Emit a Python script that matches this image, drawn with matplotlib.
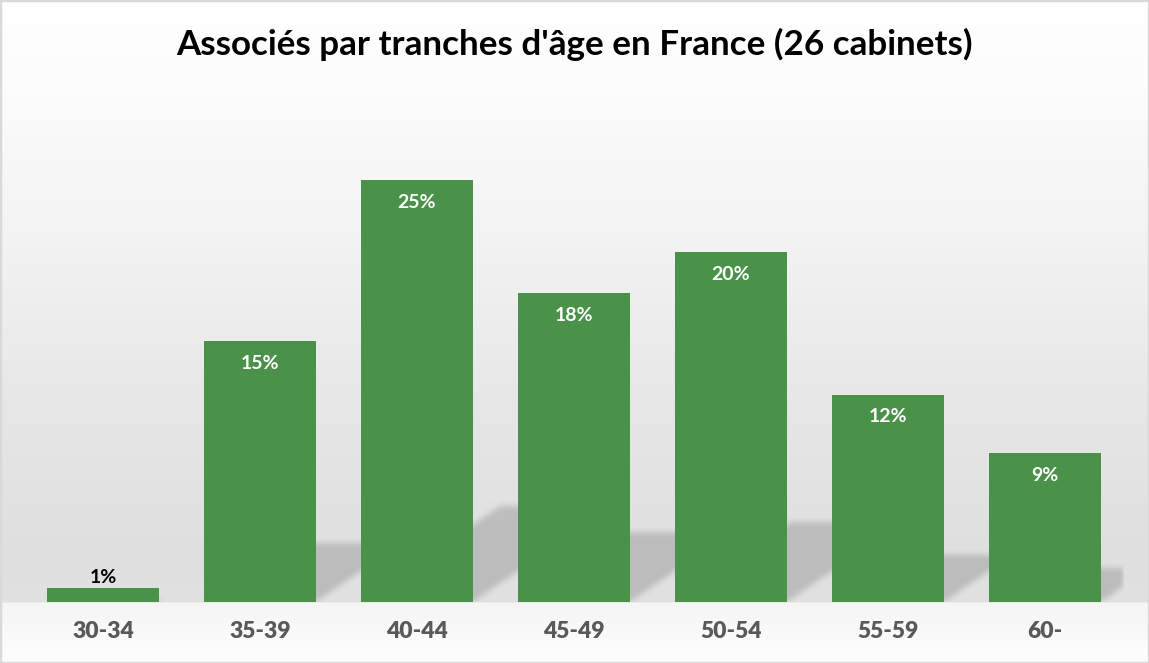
import numpy as np
import matplotlib
matplotlib.use("Agg")
import matplotlib.pyplot as plt
from matplotlib.patches import Rectangle

# ---- data ----
categories = ["30-34", "35-39", "40-44", "45-49", "50-54", "55-59", "60-"]
values = [0.8, 15.2, 24.6, 18.0, 20.4, 12.1, 8.7]
title = "Associés par tranches d'âge en France (26 cabinets)"

bar_color = "#4a9249"
tick_color = "#595959"
FONT = "Lato"

W_PX, H_PX, DPI = 1149, 663, 100
fig = plt.figure(figsize=(W_PX / DPI, H_PX / DPI), dpi=DPI)

# ---- background gradient over the whole chart ----
bg = fig.add_axes([0, 0, 1, 1], zorder=-10)
stops_y = [0, 90, 250, 400, 560, 601, 603, 663]
stops_v = [255, 252, 242, 231, 223, 225, 245, 254]
rows = np.interp(np.arange(H_PX), stops_y, stops_v) / 255.0
grad = np.repeat(rows[:, None], 4, axis=1)
rgb = np.dstack([grad, grad, grad])
bg.imshow(rgb, aspect="auto", extent=(0, 1, 0, 1), interpolation="bilinear")
bg.set_axis_off()

# ---- main axes ----
left_px, right_px = 24.5, 1123.5
base_px, top_px = 602, 122
ymax = 28.0
ax = fig.add_axes([left_px / W_PX, 1 - base_px / H_PX,
                   (right_px - left_px) / W_PX, (base_px - top_px) / H_PX])
ax.patch.set_visible(False)
n = len(categories)
x = np.arange(n)
bar_w = 0.713
ax.set_xlim(-0.5, n - 0.5)
ax.set_ylim(0, ymax)

# ---- perspective shadows (computed from the bars, blurred) ----
Wp = int(round(right_px - left_px))
Hp = int(round(base_px - top_px))
px_per_x = Wp / n
px_per_y = Hp / ymax
mask = np.zeros((Hp, Wp))
k_height, shear = 0.23, 1.45
for xi, v in zip(x, values):
    h = k_height * v * px_per_y
    c0 = (xi - bar_w / 2 + 0.5) * px_per_x
    c1 = (xi + bar_w / 2 + 0.5) * px_per_x
    for r in range(int(h)):
        a = int(round(c0 + shear * r))
        b = int(round(c1 + shear * r))
        mask[r, max(a, 0):min(b, Wp)] = 1.0

def box_blur(arr, rad, axis):
    kern = np.ones(2 * rad + 1) / (2 * rad + 1)
    return np.apply_along_axis(lambda m: np.convolve(m, kern, mode="same"), axis, arr)

for _ in range(2):
    mask = box_blur(mask, 3, 0)
    mask = box_blur(mask, 3, 1)
shadow = np.zeros((Hp, Wp, 4))
shadow[..., 3] = 0.16 * mask
ax.imshow(shadow, origin="lower", extent=(-0.5, n - 0.5, 0, ymax),
          aspect="auto", zorder=1, interpolation="bilinear")

# ---- bars ----
bars = ax.bar(x, values, width=bar_w, color=bar_color, zorder=2)
for xi, v in zip(x, values):
    lab = f"{round(v)}%"
    if v >= 3:
        ax.annotate(lab, (xi, v), xytext=(0, -16), textcoords="offset points",
                    ha="center", va="center", color="white", fontsize=14,
                    fontweight="bold", family=FONT, zorder=3)
    else:
        ax.annotate(lab, (xi, v), xytext=(0, 7.5), textcoords="offset points",
                    ha="center", va="center", color="black", fontsize=14,
                    fontweight="bold", family=FONT, zorder=3)

ax.set_xticks(x)
ax.set_xticklabels(categories, fontsize=16.5, fontweight="heavy",
                   color=tick_color, family=FONT)
ax.tick_params(axis="x", length=0, pad=14)
ax.set_yticks([])
for s in ax.spines.values():
    s.set_visible(False)

fig.text(0.5, 1 - 44 / H_PX, title, ha="center", va="center",
         fontsize=25.2, fontweight="bold", family=FONT, color="black")

fig.patches.append(Rectangle((0, 0), 1, 1, transform=fig.transFigure,
                             fill=False, ec="#d9d9d9", lw=2.5, zorder=20))

fig.savefig("out.png", dpi=DPI)
